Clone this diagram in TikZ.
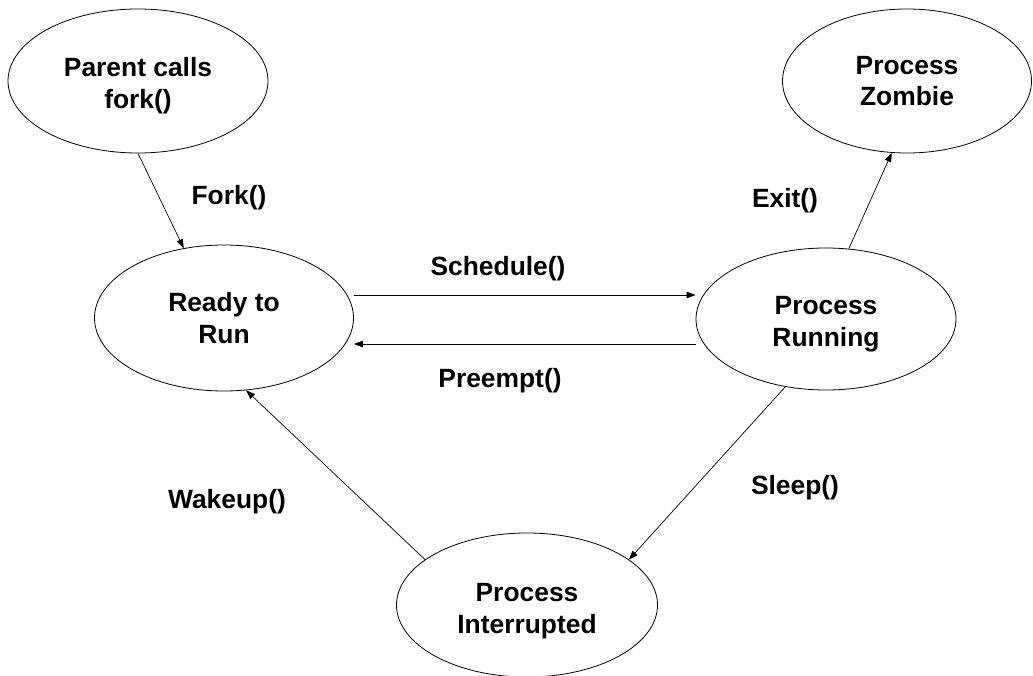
\documentclass[tikz,border=0pt]{standalone}
\usepackage{fontspec}
\setmainfont{Liberation Sans}
\usetikzlibrary{shapes.geometric,arrows.meta}

% lower a line of text without changing its box
\newcommand\lowr[2]{\raisebox{-#1}[\height][\depth]{#2}}

\tikzset{
  state/.style={draw, ellipse, line width=0.8pt, inner sep=0pt,
    align=center, font=\fontsize{26.4}{31.7}\selectfont\bfseries},
  edgelabel/.style={inner sep=0pt, font=\fontsize{26.4}{31.7}\selectfont\bfseries},
  arr/.style={line width=0.7pt, -{Triangle[length=9pt,width=6.5pt]}}
}

\begin{document}
\begin{tikzpicture}[x=1pt, y=-1pt]
\useasboundingbox (0,0) rectangle (1033,676);

% states
\node[state, minimum width=260pt, minimum height=144pt] (parent)  at (138,81)
  {\lowr{5pt}{Parent calls}\\\lowr{5pt}{fork()}};
\node[state, minimum width=249pt, minimum height=144pt] (zombie)  at (907,81)
  {Process\\Zombie};
\node[state, minimum width=259pt, minimum height=146pt] (ready)   at (224,318)
  {Ready to\\Run};
\node[state, minimum width=260pt, minimum height=142pt] (running) at (826,319)
  {\lowr{5pt}{Process}\\\lowr{5pt}{Running}};
\node[state, minimum width=261pt, minimum height=144pt] (interr)  at (527,605)
  {\lowr{6pt}{Process}\\\lowr{6pt}{Interrupted}};

% transition labels
\node[edgelabel] (lfork)     at (229,198) {Fork()};
\node[edgelabel] (lexit)     at (785,201) {Exit()};
\node[edgelabel] (lschedule) at (498,269) {Schedule()};
\node[edgelabel] (lpreempt)  at (500,381) {Preempt()};
\node[edgelabel] (lwakeup)   at (227,502) {Wakeup()};
\node[edgelabel] (lsleep)    at (795,488) {Sleep()};

% transitions
\draw[arr] (parent.south)  -- (ready.120.6);
\draw[arr] (running.72.8)  -- (zombie.258.2);
\draw[arr] ([yshift=23pt]ready.east) -- ([yshift=23pt]ready.east -| running.west);
\draw[arr] ([yshift=-25pt]running.west) -- ([yshift=-25pt]running.west -| ready.east);
\draw[arr] (interr.156.7)  -- (ready.287.3);
\draw[arr] (running.239.5) -- (interr.24.4);
\end{tikzpicture}
\end{document}
